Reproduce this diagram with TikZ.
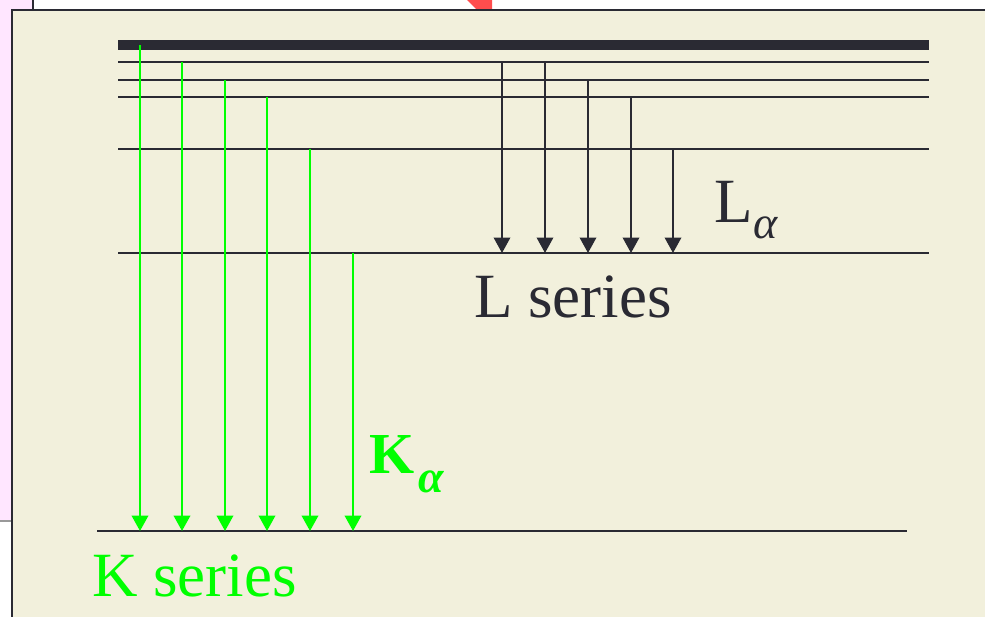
\documentclass[tikz,border=0pt]{standalone}
\usepackage{fontspec}
\setmainfont{Liberation Serif}
\usetikzlibrary{arrows.meta}
\definecolor{panelbg}{RGB}{242,240,220}
\definecolor{pinkbg}{RGB}{255,230,255}
\definecolor{ink}{RGB}{42,42,51}
\definecolor{kgreen}{RGB}{0,255,0}
\definecolor{redmark}{RGB}{255,77,77}
\tikzset{
  level/.style={draw=ink, line width=2pt},
  toplevel/.style={draw=ink, line width=10pt},
  ktrans/.style={draw=kgreen, line width=2.3pt, -{Triangle[length=15.5pt,width=16.5pt]}},
  ltrans/.style={draw=ink, line width=2pt, -{Triangle[length=15.5pt,width=16.5pt]}},
  lbl/.style={inner sep=0pt, anchor=base west, font=\fontsize{63}{63}\selectfont},
}
\begin{document}
\begin{tikzpicture}[x=1pt, y=-1pt]
\useasboundingbox (0,0) rectangle (985,616);
% background slides
\fill[pinkbg, draw=gray!80, line width=1.5pt] (-10,-10) rectangle (60,521);
\fill[white, draw=ink, line width=2pt] (33,-10) rectangle (995,10);
\fill[redmark] (465,-2) -- (492,-2) -- (492,10) -- (477,10) -- cycle;
\fill[panelbg, draw=ink, line width=2pt] (12,10) rectangle (995,630);
% energy levels
\coordinate (t0a) at (118,45);  \coordinate (t0b) at (929,45);
\coordinate (t1a) at (118,62);  \coordinate (t1b) at (929,62);
\coordinate (t2a) at (118,80);  \coordinate (t2b) at (929,80);
\coordinate (t3a) at (118,97);  \coordinate (t3b) at (929,97);
\coordinate (t4a) at (118,149); \coordinate (t4b) at (929,149);
\coordinate (lla) at (118,253); \coordinate (llb) at (929,253);
\coordinate (kla) at (97,531);  \coordinate (klb) at (907,531);
\draw[toplevel] (t0a) -- (t0b);
\draw[level] (t1a) -- (t1b);
\draw[level] (t2a) -- (t2b);
\draw[level] (t3a) -- (t3b);
\draw[level] (t4a) -- (t4b);
\draw[level] (lla) -- (llb);
\draw[level] (kla) -- (klb);
% K series transitions
\coordinate (k1s) at (140,45);  \coordinate (k1e) at (140,531);
\coordinate (k2s) at (182,62);  \coordinate (k2e) at (182,531);
\coordinate (k3s) at (225,80);  \coordinate (k3e) at (225,531);
\coordinate (k4s) at (267,97);  \coordinate (k4e) at (267,531);
\coordinate (k5s) at (310,149); \coordinate (k5e) at (310,531);
\coordinate (k6s) at (353,253); \coordinate (k6e) at (353,531);
\foreach \i in {1,...,6} { \draw[ktrans] (k\i s) -- (k\i e); }
% L series transitions
\coordinate (l1s) at (502,62);  \coordinate (l1e) at (502,253);
\coordinate (l2s) at (545,62);  \coordinate (l2e) at (545,253);
\coordinate (l3s) at (588,80);  \coordinate (l3e) at (588,253);
\coordinate (l4s) at (631,97);  \coordinate (l4e) at (631,253);
\coordinate (l5s) at (673,149); \coordinate (l5e) at (673,253);
\foreach \i in {1,...,5} { \draw[ltrans] (l\i s) -- (l\i e); }
% labels
\node[lbl, text=ink] (lseries) at (474,317) {L series};
\node[lbl, text=kgreen] (kseries) at (92,596) {K series};
\node[lbl, text=ink] (lalpha) at (714,222) {L\kern1pt\raisebox{-16pt}{\fontsize{46}{46}\selectfont\itshape α}};
\node[lbl, text=kgreen, font=\fontsize{58}{58}\selectfont\bfseries] (kalpha) at (369,473) {K\kern4pt\raisebox{-19pt}{\fontsize{46}{46}\selectfont\bfseries\itshape α}};
\end{tikzpicture}
\end{document}
